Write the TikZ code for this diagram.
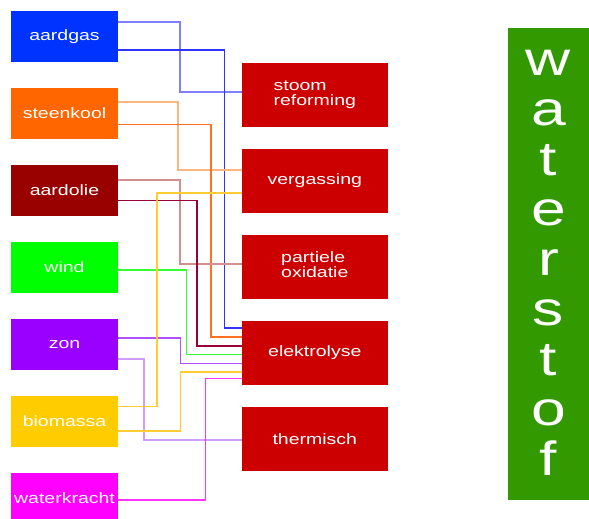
\documentclass[tikz,border=0pt]{standalone}
\usepackage{fontspec}
\setmainfont{Liberation Sans}
\usetikzlibrary{calc}
\newcommand\stretchtxt[1]{\scalebox{1.3}[1]{#1}}
\definecolor{cAardgas}{HTML}{0033FF}
\definecolor{cSteenkool}{HTML}{FF6600}
\definecolor{cAardolie}{HTML}{990000}
\definecolor{cWind}{HTML}{00FF00}
\definecolor{cZon}{HTML}{9900FF}
\definecolor{cBiomassa}{HTML}{FFCC00}
\definecolor{cWater}{HTML}{FF00FF}
\definecolor{cProc}{HTML}{CC0000}
\definecolor{cGreen}{HTML}{339900}
\definecolor{lBlueA}{HTML}{8080FF}
\definecolor{lBlueB}{HTML}{3333FF}
\definecolor{lOrangeA}{HTML}{FFB580}
\definecolor{lOrangeB}{HTML}{FF7020}
\definecolor{lRedA}{HTML}{D09090}
\definecolor{lRedB}{HTML}{99003A}
\definecolor{lGreen}{HTML}{33FF33}
\definecolor{lPurpleA}{HTML}{B050FF}
\definecolor{lPurpleB}{HTML}{D29CFF}
\definecolor{lYellow}{HTML}{FFCC33}
\definecolor{lMagenta}{HTML}{FF33FF}
\definecolor{lRight}{HTML}{FF7070}
\begin{document}
\begin{tikzpicture}[x=1pt,y=-1pt,
  box/.style={inner sep=0pt, outer sep=0pt, text=white, font=\fontsize{15}{15}\selectfont},
  srcbox/.style={box, minimum width=107pt, minimum height=51pt},
  procbox/.style={box, fill=cProc, minimum width=146.3pt, minimum height=64pt},
  conn/.style={line width=1.2pt},
  thick conn/.style={line width=1.7pt}]
\useasboundingbox (0,0) rectangle (589,519);
% source boxes
\node[srcbox, fill=cAardgas]   (aardgas)     at (64.5,36.5)  {\stretchtxt{aardgas}};
\node[srcbox, fill=cSteenkool] (steenkool)   at (64.5,113.5) {\stretchtxt{steenkool}};
\node[srcbox, fill=cAardolie]  (aardolie)    at (64.5,190.5) {\stretchtxt{aardolie}};
\node[srcbox, fill=cWind]      (wind)        at (64.5,267.5) {\stretchtxt{wind}};
\node[srcbox, fill=cZon]       (zon)         at (64.5,344.5) {\stretchtxt{zon}};
\node[srcbox, fill=cBiomassa]  (biomassa)    at (64.5,421.5) {\stretchtxt{biomassa}};
\node[srcbox, fill=cWater]     (waterkracht) at (64.5,498.5) {\stretchtxt{waterkracht}};
% process boxes
\node[procbox] (stoom) at (314.8,95) {\stretchtxt{\begin{tabular}{@{}l@{}}stoom\\reforming\end{tabular}}};
\node[procbox] (vergassing) at (314.8,181) {\stretchtxt{vergassing}};
\node[procbox] (partiele) at (314.8,267) {\stretchtxt{\begin{tabular}{@{}l@{}}partiele\\oxidatie\end{tabular}}};
\node[procbox] (elektrolyse) at (314.8,353) {\stretchtxt{elektrolyse}};
\node[procbox] (thermisch) at (314.8,439) {\stretchtxt{thermisch}};
% product
\node[inner sep=0pt, outer sep=0pt, fill=cGreen, minimum width=81pt, minimum height=472pt] (waterstof) at (548.5,264) {};
\node[anchor=base, inner sep=0pt, text=white, font=\fontsize{48}{50.1}\selectfont] (wlabel) at (548.5,75)
  {\stretchtxt{\begin{tabular}[t]{@{}c@{}}w\\a\\t\\e\\r\\s\\t\\o\\f\end{tabular}}};
% connectors source -> process
\draw[thick conn, lBlueA]  ($(aardgas.east)+(0,-14.2)$) -| ($(stoom.west)+(-61.65,-3)$) -- ($(stoom.west)+(0,-3)$);
\draw[conn, lBlueB]        ($(aardgas.east)+(0,13.5)$) -| ($(elektrolyse.west)+(-17.35,-25)$) -- ($(elektrolyse.west)+(0,-25)$);
\draw[thick conn, lOrangeA]($(steenkool.east)+(0,-11.8)$) -| ($(vergassing.west)+(-63.65,-11)$) -- ($(vergassing.west)+(0,-11)$);
\draw[conn, lOrangeB]      ($(steenkool.east)+(0,11.2)$) -| ($(elektrolyse.west)+(-30.65,-16)$) -- ($(elektrolyse.west)+(0,-16)$);
\draw[thick conn, lRedA]   ($(aardolie.east)+(0,-10.8)$) -| ($(partiele.west)+(-61.65,-3.3)$) -- ($(partiele.west)+(0,-3.3)$);
\draw[conn, lRedB]         ($(aardolie.east)+(0,9.8)$) -| ($(elektrolyse.west)+(-44.65,-7)$) -- ($(elektrolyse.west)+(0,-7)$);
\draw[conn, lGreen]        ($(wind.east)+(0,2.5)$) -| ($(elektrolyse.west)+(-54.95,1.3)$) -- ($(elektrolyse.west)+(0,1.3)$);
\draw[conn, lPurpleA]      ($(zon.east)+(0,-6.5)$) -| ($(elektrolyse.west)+(-60.95,10.7)$) -- ($(elektrolyse.west)+(0,10.7)$);
\draw[thick conn, lPurpleB]($(zon.east)+(0,14.2)$) -| ($(thermisch.west)+(-97.95,1)$) -- ($(thermisch.west)+(0,1)$);
\draw[conn, lYellow]       ($(biomassa.east)+(0,-14.8)$) -| ($(vergassing.west)+(-84.65,12)$) -- ($(vergassing.west)+(0,12)$);
\draw[conn, lYellow]       ($(biomassa.east)+(0,9.5)$) -| ($(elektrolyse.west)+(-60.95,19)$) -- ($(elektrolyse.west)+(0,19)$);
\draw[conn, lMagenta]      ($(waterkracht.east)+(0,1.5)$) -| ($(elektrolyse.west)+(-35.95,25.7)$) -- ($(elektrolyse.west)+(0,25.7)$);
% connectors process -> product
\draw[conn, lRight] ($(stoom.east)+(0,-2.3)$) -- ($(stoom.east)+(0,-2.3)$ -| waterstof.west);
\draw[conn, lRight] ($(vergassing.east)+(0,-3)$) -- ($(vergassing.east)+(0,-3)$ -| waterstof.west);
\draw[conn, lRight] ($(partiele.east)+(0,1.7)$) -- ($(partiele.east)+(0,1.7)$ -| waterstof.west);
\draw[conn, lRight] ($(elektrolyse.east)+(0,3)$) -- ($(elektrolyse.east)+(0,3)$ -| waterstof.west);
\draw[conn, lRight] ($(thermisch.east)+(0,-3)$) -- ($(thermisch.east)+(0,-3)$ -| waterstof.west);
\end{tikzpicture}
\end{document}
